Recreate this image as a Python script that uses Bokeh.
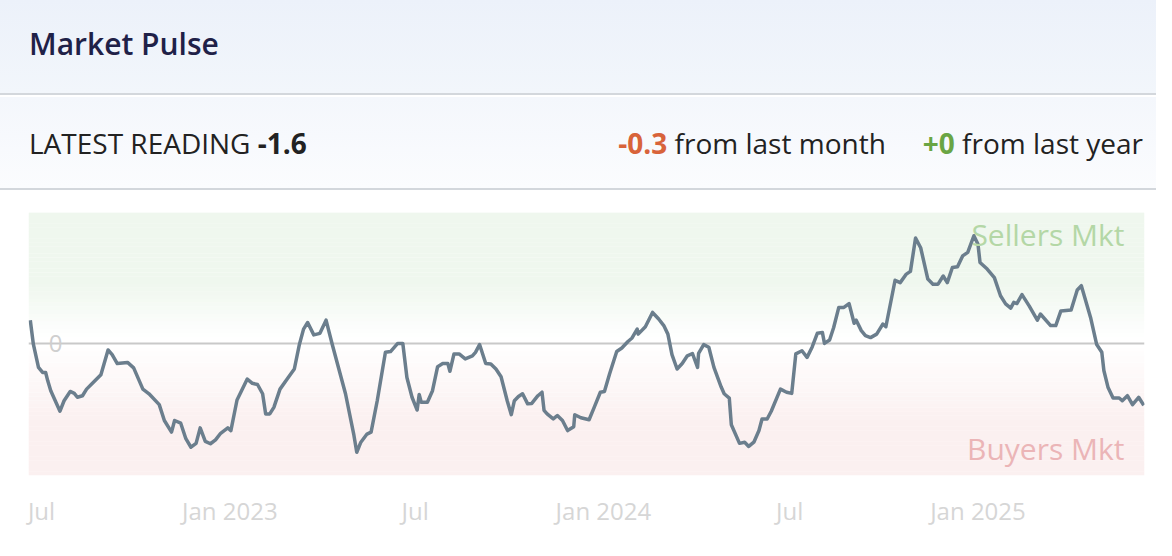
import pandas as pd
from bokeh.plotting import figure
from bokeh.models import ColumnDataSource, Range1d, FixedTicker, Span, Label, BoxAnnotation, Div
from bokeh.layouts import column
from bokeh.embed import file_html
from bokeh.resources import INLINE

# ---------------- data ----------------
DATES = [
    "2022-06-20", "2022-06-23", "2022-06-28", "2022-07-02", "2022-07-05", "2022-07-07", "2022-07-10",
    "2022-07-19", "2022-07-23", "2022-07-29", "2022-08-02", "2022-08-05", "2022-08-10", "2022-08-14",
    "2022-08-19", "2022-08-28", "2022-09-04", "2022-09-08", "2022-09-13", "2022-09-23", "2022-09-29",
    "2022-10-08", "2022-10-14", "2022-10-24", "2022-10-29", "2022-11-05", "2022-11-08", "2022-11-14",
    "2022-11-19", "2022-11-24", "2022-11-29", "2022-12-03", "2022-12-08", "2022-12-13", "2022-12-18",
    "2022-12-23", "2022-12-30", "2023-01-02", "2023-01-08", "2023-01-18", "2023-01-23", "2023-01-28",
    "2023-02-02", "2023-02-05", "2023-02-09", "2023-02-13", "2023-02-19", "2023-02-26", "2023-03-05",
    "2023-03-10", "2023-03-14", "2023-03-18", "2023-03-24", "2023-03-30", "2023-04-05", "2023-04-11",
    "2023-04-24", "2023-05-02", "2023-05-05", "2023-05-09", "2023-05-15", "2023-05-19", "2023-05-25",
    "2023-06-02", "2023-06-07", "2023-06-14", "2023-06-19", "2023-06-23", "2023-06-28", "2023-07-03",
    "2023-07-05", "2023-07-07", "2023-07-13", "2023-07-18", "2023-07-23", "2023-07-28", "2023-08-02",
    "2023-08-04", "2023-08-08", "2023-08-13", "2023-08-19", "2023-08-26", "2023-08-29", "2023-09-02",
    "2023-09-08", "2023-09-13", "2023-09-18", "2023-09-23", "2023-09-29", "2023-10-03", "2023-10-06",
    "2023-10-10", "2023-10-14", "2023-10-19", "2023-10-23", "2023-10-29", "2023-11-02", "2023-11-04",
    "2023-11-07", "2023-11-13", "2023-11-17", "2023-11-22", "2023-11-27", "2023-12-03", "2023-12-04",
    "2023-12-10", "2023-12-18", "2023-12-23", "2023-12-29", "2024-01-02", "2024-01-07", "2024-01-14",
    "2024-01-19", "2024-01-25", "2024-01-29", "2024-02-03", "2024-02-04", "2024-02-11", "2024-02-18",
    "2024-02-24", "2024-02-29", "2024-03-04", "2024-03-08", "2024-03-13", "2024-03-18", "2024-03-23",
    "2024-03-28", "2024-04-02", "2024-04-03", "2024-04-08", "2024-04-13", "2024-04-18", "2024-04-25",
    "2024-04-28", "2024-05-03", "2024-05-05", "2024-05-13", "2024-05-18", "2024-05-22", "2024-05-27",
    "2024-06-01", "2024-06-04", "2024-06-09", "2024-06-13", "2024-06-22", "2024-06-28", "2024-07-03",
    "2024-07-07", "2024-07-13", "2024-07-18", "2024-07-23", "2024-07-28", "2024-08-02", "2024-08-04",
    "2024-08-09", "2024-08-13", "2024-08-18", "2024-08-23", "2024-08-28", "2024-09-02", "2024-09-04",
    "2024-09-09", "2024-09-13", "2024-09-18", "2024-09-24", "2024-09-30", "2024-10-03", "2024-10-12",
    "2024-10-17", "2024-10-23", "2024-10-27", "2024-11-01", "2024-11-06", "2024-11-13", "2024-11-18",
    "2024-11-23", "2024-11-28", "2024-12-02", "2024-12-07", "2024-12-12", "2024-12-17", "2024-12-22",
    "2024-12-28", "2025-01-01", "2025-01-03", "2025-01-10", "2025-01-17", "2025-01-23", "2025-01-28",
    "2025-02-02", "2025-02-05", "2025-02-08", "2025-02-13", "2025-02-20", "2025-02-28", "2025-03-03",
    "2025-03-13", "2025-03-18", "2025-03-23", "2025-04-02", "2025-04-08", "2025-04-12", "2025-04-21",
    "2025-04-27", "2025-05-02", "2025-05-04", "2025-05-08", "2025-05-13", "2025-05-19", "2025-05-22",
    "2025-05-27", "2025-06-01", "2025-06-07", "2025-06-12",
]
VALUES = [
    0.60, -0.02, -0.62, -0.75, -0.75, -0.96, -1.22,
    -1.75, -1.48, -1.24, -1.29, -1.39, -1.35, -1.18,
    -1.05, -0.81, -0.17, -0.29, -0.52, -0.49, -0.63,
    -1.18, -1.30, -1.58, -1.99, -2.29, -1.99, -2.06,
    -2.46, -2.68, -2.58, -2.18, -2.53, -2.59, -2.49,
    -2.32, -2.18, -2.25, -1.46, -0.92, -1.03, -1.06,
    -1.30, -1.82, -1.82, -1.65, -1.18, -0.92, -0.66,
    -0.02, 0.37, 0.54, 0.22, 0.26, 0.60, -0.02,
    -1.30, -2.34, -2.81, -2.55, -2.34, -2.29, -1.48,
    -0.23, -0.21, 0.00, 0.00, -0.88, -1.39, -1.72,
    -1.32, -1.52, -1.52, -1.22, -0.60, -0.52, -0.52,
    -0.72, -0.27, -0.27, -0.40, -0.32, -0.23, -0.03,
    -0.52, -0.53, -0.66, -0.86, -1.48, -1.84, -1.48,
    -1.37, -1.30, -1.56, -1.55, -1.35, -1.26, -1.73,
    -1.82, -1.95, -1.86, -1.99, -2.25, -2.15, -1.84,
    -1.92, -1.97, -1.65, -1.26, -1.24, -0.79, -0.21,
    -0.12, 0.05, 0.14, 0.37, 0.24, 0.43, 0.80,
    0.63, 0.46, 0.24, -0.29, -0.66, -0.52, -0.32,
    -0.26, -0.62, -0.26, -0.03, -0.10, -0.62, -1.12,
    -1.30, -1.41, -2.10, -2.58, -2.55, -2.66, -2.55,
    -2.25, -1.95, -1.95, -1.75, -1.18, -1.26, -1.29,
    -0.27, -0.19, -0.36, -0.09, 0.26, 0.28, 0.00,
    0.09, 0.41, 0.93, 0.93, 1.03, 0.52, 0.60,
    0.33, 0.20, 0.15, 0.24, 0.50, 0.43, 1.63,
    1.57, 1.79, 1.86, 2.72, 2.47, 1.66, 1.53,
    1.53, 1.74, 1.57, 1.96, 1.98, 2.26, 2.35,
    2.78, 2.56, 2.09, 1.92, 1.70, 1.23, 1.02,
    0.91, 1.06, 1.03, 1.26, 0.97, 0.60, 0.76,
    0.46, 0.46, 0.84, 0.86, 1.38, 1.49, 0.67,
    -0.03, -0.23, -0.70, -1.13, -1.41, -1.41, -1.48,
    -1.35, -1.58, -1.39, -1.60,
]
TICK_DATES = ["2022-07-01", "2023-01-01", "2023-07-01", "2024-01-01", "2024-07-01", "2025-01-01"]
TICK_LABELS = ["Jul", "Jan 2023", "Jul", "Jan 2024", "Jul", "Jan 2025"]

TITLE = "Market Pulse"
LATEST = "-1.6"
MONTH_CHANGE = "-0.3"
YEAR_CHANGE = "+0"
ZONE_TOP = "Sellers Mkt"
ZONE_BOTTOM = "Buyers Mkt"

X_START = "2022-06-18 06:00"
X_END = "2025-06-12 17:00"
Y_MIN, Y_MAX = -3.41, 3.38

FONT = "Open Sans"
W = 1156


def ms(d):
    return float(pd.Timestamp(d).value // 10**6)


# ---------------- header (HTML) ----------------
header_html = f"""
<div style="position:relative;width:{W}px;height:192px;overflow:hidden;font-family:'{FONT}',sans-serif;">
  <div style="position:absolute;left:0;top:0;width:{W}px;height:95px;
              background:linear-gradient(180deg,#ecf1fa 0%,#f2f6fb 100%);
              border-bottom:2px solid #d3d7dc;"></div>
  <div style="position:absolute;left:0;top:97px;width:{W}px;height:93px;
              background:linear-gradient(180deg,#f4f7fc 0%,#fbfcfe 100%);
              border-bottom:2px solid #d3d7dc;"></div>
  <div style="position:absolute;left:29px;top:29px;font-size:30px;line-height:30px;
              font-weight:600;color:#1f2148;white-space:nowrap;">{TITLE}</div>
  <div style="position:absolute;left:29px;top:129px;font-size:28px;line-height:28px;
              color:#222222;white-space:nowrap;">LATEST READING <span style="font-weight:700;">{LATEST}</span></div>
  <div style="position:absolute;right:13px;top:129px;font-size:28px;line-height:28px;
              color:#222222;white-space:nowrap;"><span style="font-weight:700;color:#d8633a;">{MONTH_CHANGE}</span> from last month<span style="display:inline-block;width:37px;"></span><span style="font-weight:700;color:#6aa544;">{YEAR_CHANGE}</span> from last year</div>
</div>
"""
header = Div(text=header_html, width=W, height=192, margin=(0, 0, 0, 0))

# ---------------- chart ----------------
src = ColumnDataSource(dict(x=pd.to_datetime(DATES), y=VALUES))

p = figure(
    width=W, height=348,
    x_axis_type="datetime", y_axis_location=None,
    x_range=Range1d(ms(X_START), ms(X_END)),
    y_range=Range1d(Y_MIN, Y_MAX),
    output_backend="svg", toolbar_location=None,
    min_border_left=28, min_border_right=12, min_border_top=20, min_border_bottom=65,
    background_fill_color="white", border_fill_color="white",
    outline_line_color=None, margin=(0, 0, 0, 0),
)
p.xgrid.visible = False
p.ygrid.visible = False

# background gradient: green (sellers) above, pink (buyers) below
GREEN = (239, 247, 238)
PINK = (251, 240, 240)
N = 70
step = (Y_MAX - Y_MIN) / N
for i in range(N):
    b = Y_MIN + i * step
    t = b + step
    m = (b + t) / 2
    if m >= 0:
        f = min(1.0, max(0.0, (m - 0.15) / 1.4))
        c = GREEN
    else:
        f = min(1.0, max(0.0, (-m) / 2.0))
        c = PINK
    col = tuple(int(round(255 + (cc - 255) * f)) for cc in c)
    p.add_layout(BoxAnnotation(bottom=b, top=t + step * 0.05,
                               fill_color="#%02x%02x%02x" % col, fill_alpha=1.0,
                               line_color=None, level="underlay"))

p.add_layout(Span(location=0, dimension="width", line_color="#c9c9c9", line_width=2, level="underlay"))

p.line("x", "y", source=src, line_color="#6b7e8d", line_width=3.5, line_join="round")

p.add_layout(Label(x=ms(X_START), y=0, x_offset=27, text="0",
                   text_font=FONT, text_font_size="24px", text_color="#cfcfcf",
                   text_align="center", text_baseline="middle"))
p.add_layout(Label(x=ms(X_END), y=Y_MAX, x_offset=-20, y_offset=-22, text=ZONE_TOP,
                   text_font=FONT, text_font_size="30px", text_color="#b4d7a6",
                   text_align="right", text_baseline="middle"))
p.add_layout(Label(x=ms(X_END), y=Y_MIN, x_offset=-20, y_offset=27, text=ZONE_BOTTOM,
                   text_font=FONT, text_font_size="30px", text_color="#ebb5b7",
                   text_align="right", text_baseline="middle"))

tick_ms = [ms(d) for d in TICK_DATES]
p.xaxis.ticker = FixedTicker(ticks=tick_ms, minor_ticks=[])
p.xaxis.major_label_overrides = {m: lab for m, lab in zip(tick_ms, TICK_LABELS)}
p.xaxis.axis_line_color = None
p.xaxis.major_tick_line_color = None
p.xaxis.minor_tick_line_color = None
p.xaxis.major_tick_out = 0
p.xaxis.major_tick_in = 0
p.xaxis.major_label_standoff = 18
p.xaxis.major_label_text_font = FONT
p.xaxis.major_label_text_font_size = "24px"
p.xaxis.major_label_text_color = "#d6d6d6"

layout = column(header, p, spacing=0, margin=(0, 0, 0, 0))

open("out.html", "w").write(file_html(layout, INLINE))
